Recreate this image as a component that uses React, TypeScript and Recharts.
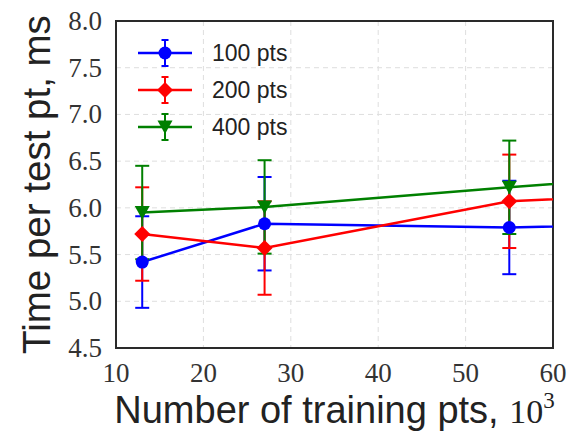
import React from "react";
import {
  LineChart, Line, XAxis, YAxis, CartesianGrid, ErrorBar, Legend, ReferenceArea,
} from "recharts";

// training set size (thousands); the last point lies past the axis and gets clipped
const TRAIN_SIZES = [13, 27, 55, 110];

const TIME_100 = [5.42, 5.83, 5.79, 5.91];
const TIME_200 = [5.72, 5.57, 6.07, 6.31];
const TIME_400 = [5.95, 6.01, 6.22, 6.61];

const ERR_100 = [0.49, 0.5, 0.5, 0.5];
const ERR_200 = [0.5, 0.5, 0.5, 0.5];
const ERR_400 = [0.5, 0.5, 0.5, 0.5];

const X_TICKS = [10, 20, 30, 40, 50, 60];
const Y_TICKS = [4.5, 5.0, 5.5, 6.0, 6.5, 7.0, 7.5, 8.0];

const SERIES = [
  { key: "p100", err: "e100", label: "100 pts", color: "#0000ff", marker: "circle" },
  { key: "p200", err: "e200", label: "200 pts", color: "#ff0000", marker: "diamond" },
  { key: "p400", err: "e400", label: "400 pts", color: "#008000", marker: "triangle" },
];

const data = TRAIN_SIZES.map((x, i) => ({
  x,
  p100: TIME_100[i], e100: ERR_100[i],
  p200: TIME_200[i], e200: ERR_200[i],
  p400: TIME_400[i], e400: ERR_400[i],
}));

const W = 571;
const H = 438;

function Marker({ cx, cy, kind, color }: { cx: number; cy: number; kind: string; color: string }) {
  if (cx == null || cy == null) return null;
  if (kind === "circle") return <circle cx={cx} cy={cy} r={6.5} fill={color} />;
  if (kind === "diamond") {
    const r = 8;
    return <polygon points={`${cx},${cy - r} ${cx + r},${cy} ${cx},${cy + r} ${cx - r},${cy}`} fill={color} />;
  }
  return <polygon points={`${cx - 7.5},${cy - 6.5} ${cx + 7.5},${cy - 6.5} ${cx},${cy + 7}`} fill={color} />;
}

const serifFont = "'Liberation Serif', 'DejaVu Serif', serif";
const sansFont = "'Liberation Sans', Arial, sans-serif";

const YTick = ({ x, y, payload }: any) => (
  <text x={x} y={y} textAnchor="end" dominantBaseline="central" fontFamily={serifFont} fontSize={27} fill="#333">
    {Number(payload.value).toFixed(1)}
  </text>
);

const XTick = ({ x, y, payload }: any) => (
  <text x={x} y={y} dy="0.71em" textAnchor="middle" fontFamily={serifFont} fontSize={27} fill="#333">
    {payload.value}
  </text>
);

const LegendBox = () => (
  <svg width={200} height={120}>
    {SERIES.map((s, i) => {
      const cy = 17 + i * 37;
      return (
        <g key={s.key}>
          <line x1={8} x2={62} y1={cy} y2={cy} stroke={s.color} strokeWidth={2.5} />
          <line x1={35} x2={35} y1={cy - 13} y2={cy + 13} stroke={s.color} strokeWidth={2} />
          <line x1={31.5} x2={38.5} y1={cy - 13} y2={cy - 13} stroke={s.color} strokeWidth={2} />
          <line x1={31.5} x2={38.5} y1={cy + 13} y2={cy + 13} stroke={s.color} strokeWidth={2} />
          <Marker cx={35} cy={cy} kind={s.marker} color={s.color} />
          <text x={82} y={cy} dominantBaseline="central" fontFamily={sansFont} fontSize={23} fill="#222">
            {s.label}
          </text>
        </g>
      );
    })}
  </svg>
);

export default function App() {
  return (
    <div style={{ position: "fixed", left: 0, top: 0, width: W, height: H, background: "#fff" }}>
      <LineChart width={W} height={H} data={data} margin={{ top: 21, right: 18, bottom: 0, left: 0 }}>
        <CartesianGrid stroke="#dedede" strokeDasharray="5 4" strokeWidth={1} />
        <XAxis
          dataKey="x"
          type="number"
          domain={[10, 60]}
          ticks={X_TICKS}
          allowDataOverflow
          height={90}
          tickSize={0}
          tickMargin={15}
          axisLine={false}
          tick={<XTick />}
          label={{
            content: ({ viewBox }: any) => (
              <text
                x={viewBox.x + viewBox.width / 2}
                y={423}
                textAnchor="middle"
                fontFamily={sansFont}
                fontSize={38}
                fill="#222"
              >
                Number of training pts,{" "}
                <tspan fontFamily={serifFont} fontSize={34}>10</tspan>
                <tspan fontFamily={serifFont} fontSize={23} dy={-15}>3</tspan>
              </text>
            ),
          }}
        />
        <YAxis
          type="number"
          domain={[4.5, 8]}
          ticks={Y_TICKS}
          allowDataOverflow
          width={116}
          tickSize={0}
          tickMargin={14}
          axisLine={false}
          tick={<YTick />}
          label={{
            content: ({ viewBox }: any) => {
              const cy = viewBox.y + viewBox.height / 2;
              return (
                <text
                  x={50}
                  y={cy}
                  transform={`rotate(-90, 50, ${cy})`}
                  textAnchor="middle"
                  fontFamily={sansFont}
                  fontSize={38.5}
                  fill="#222"
                >
                  Time per test pt, ms
                </text>
              );
            },
          }}
        />
        {/* plot frame */}
        <ReferenceArea
          x1={10} x2={60} y1={4.5} y2={8}
          fill="none" stroke="#2a2a2a" strokeOpacity={1} strokeWidth={2} ifOverflow="visible"
        />
        {SERIES.map((s) => (
          <Line
            key={s.key}
            dataKey={s.key}
            stroke={s.color}
            strokeWidth={2.5}
            isAnimationActive={false}
            legendType="none"
            dot={(p: any) => <Marker key={`${s.key}-${p.index}`} cx={p.cx} cy={p.cy} kind={s.marker} color={s.color} />}
            activeDot={false}
          >
            <ErrorBar dataKey={s.err} direction="y" width={7} stroke={s.color} strokeWidth={2} isAnimationActive={false} />
          </Line>
        ))}
        <Legend
          align="center"
          verticalAlign="middle"
          content={<LegendBox />}
          wrapperStyle={{ left: 130, top: 36, width: 200, height: 120 }}
        />
      </LineChart>
    </div>
  );
}
